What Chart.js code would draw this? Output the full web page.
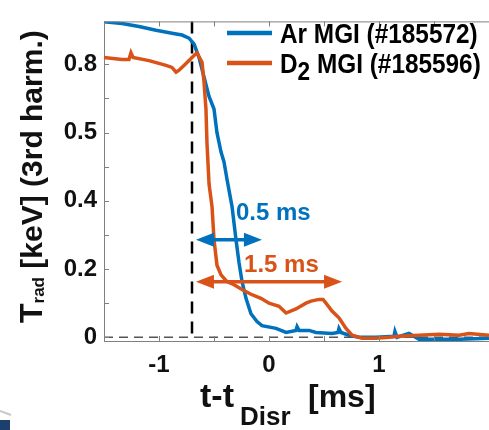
<!DOCTYPE html>
<html lang="en">
<head>
<meta charset="UTF-8">
<title>Trad (3rd harm.) during MGI disruption</title>
<script src="https://cdn.jsdelivr.net/npm/chart.js"></script>
<style>
  body { margin: 0; background: #fff; }
  #wrap { width: 489px; height: 430px; }
</style>
</head>
<body>
<div id="wrap"><canvas id="tradChart"></canvas></div>
<script>
// Ar MGI (#185572), time relative to disruption [ms] and Trad [keV]
const arTime = [-1.5, -1.336, -1.182, -1.027, -0.882, -0.791, -0.727, -0.682, -0.636, -0.591,
  -0.545, -0.5, -0.473, -0.436, -0.409, -0.382, -0.336, -0.3, -0.273, -0.245,
  -0.209, -0.164, -0.109, -0.064, 0.064, 0.155, 0.245, 0.255, 0.273, 0.364,
  0.427, 0.573, 0.627, 0.636, 0.655, 0.727, 0.818, 0.973, 1.136, 1.145,
  1.164, 1.273, 1.364, 1.545, 1.727, 2.0];
const arTrad = [0.925, 0.92, 0.911, 0.9, 0.891, 0.886, 0.877, 0.86, 0.82, 0.763,
  0.706, 0.669, 0.6, 0.543, 0.514, 0.463, 0.383, 0.286, 0.22, 0.163,
  0.114, 0.069, 0.046, 0.034, 0.026, 0.014, 0.02, 0.031, 0.02, 0.02,
  0.014, 0.011, 0.014, 0.026, 0.014, 0.006, 0.0, 0.0, 0.003, 0.017,
  0.0, 0.011, -0.006, -0.006, -0.006, -0.003];

// D2 MGI (#185596)
const d2Time = [-1.5, -1.336, -1.273, -1.255, -1.236, -1.091, -0.936, -0.882, -0.845, -0.818,
  -0.773, -0.727, -0.7, -0.655, -0.609, -0.591, -0.573, -0.564, -0.545, -0.518,
  -0.5, -0.473, -0.436, -0.382, -0.318, -0.245, -0.164, -0.073, 0, 0.091,
  0.155, 0.245, 0.336, 0.382, 0.455, 0.491, 0.518, 0.573, 0.636, 0.7,
  0.755, 0.845, 0.973, 1.091, 1.182, 1.364, 1.545, 1.727, 1.818, 2.0];
const d2Trad = [0.82, 0.814, 0.814, 0.834, 0.82, 0.811, 0.797, 0.791, 0.777, 0.783,
  0.797, 0.811, 0.82, 0.834, 0.806, 0.749, 0.669, 0.571, 0.449, 0.383,
  0.286, 0.211, 0.183, 0.163, 0.154, 0.14, 0.126, 0.114, 0.1, 0.091,
  0.071, 0.083, 0.1, 0.106, 0.111, 0.111, 0.1, 0.077, 0.057, 0.026,
  0.006, -0.003, -0.003, 0, 0.003, 0.006, 0.009, 0.006, 0.011, 0.006];

const xTickValues = [-1, 0, 1];
const xTickLabels = ['-1', '0', '1'];
const xMinorTicks = [-1.5, -1, -0.5, 0, 0.5, 1, 1.5, 2];
const yTickValues = [0, 0.2, 0.4, 0.6, 0.8];
const yTickLabels = ['0', '0.2', '0.4', '0.5', '0.8'];
const yMinorTicks = [0, 0.1, 0.2, 0.3, 0.4, 0.5, 0.6, 0.7, 0.8];

const disruptionTime = -0.7;
// arrows: [from, to, level] in data units, label and where it starts
const spanArrows = [
  { label: '0.5 ms', from: -0.664, to: -0.064, level: 0.286, textX: -0.3, textY: 0.363 },
  { label: '1.5 ms', from: -0.664, to: 0.664, level: 0.163, textX: -0.227, textY: 0.211 }
];

const BLUE = '#0072BD';
const ORANGE = '#D95319';
const FONT = '"Liberation Sans", Arial, sans-serif';

function toPoints(xs, ys) {
  return xs.map((x, i) => ({ x: x, y: ys[i] }));
}

// text with subscript parts, optional horizontal squeeze
function drawRich(ctx, parts, x, y, size, squeeze) {
  ctx.save();
  ctx.translate(x, y);
  ctx.scale(squeeze || 1, 1);
  ctx.textAlign = 'left';
  ctx.textBaseline = 'alphabetic';
  let cx = 0;
  parts.forEach(p => {
    const fs = p.size || size;
    ctx.font = 'bold ' + fs + 'px ' + FONT;
    ctx.fillText(p.t, cx, p.dy || 0);
    cx += ctx.measureText(p.t).width;
  });
  ctx.restore();
}

function drawArrow(ctx, x1, x2, y, color) {
  const head = 18, half = 7;
  ctx.strokeStyle = color;
  ctx.fillStyle = color;
  ctx.lineWidth = 3.5;
  ctx.setLineDash([]);
  ctx.beginPath();
  ctx.moveTo(x1 + head - 2, y);
  ctx.lineTo(x2 - head + 2, y);
  ctx.stroke();
  ctx.beginPath();
  ctx.moveTo(x1, y); ctx.lineTo(x1 + head, y - half); ctx.lineTo(x1 + head, y + half);
  ctx.closePath(); ctx.fill();
  ctx.beginPath();
  ctx.moveTo(x2, y); ctx.lineTo(x2 - head, y - half); ctx.lineTo(x2 - head, y + half);
  ctx.closePath(); ctx.fill();
}

const decor = {
  id: 'decor',
  beforeDatasetsDraw(chart) {
    const { ctx, chartArea: a, scales: { x, y } } = chart;
    ctx.save();
    // zero line
    ctx.strokeStyle = '#555';
    ctx.lineWidth = 1.5;
    ctx.setLineDash([9, 6]);
    ctx.beginPath();
    ctx.moveTo(a.left, y.getPixelForValue(0));
    ctx.lineTo(a.right, y.getPixelForValue(0));
    ctx.stroke();
    // disruption marker
    const xd = x.getPixelForValue(disruptionTime);
    ctx.strokeStyle = '#000';
    ctx.lineWidth = 2.5;
    ctx.setLineDash([12, 8]);
    ctx.beginPath();
    ctx.moveTo(xd, a.top);
    ctx.lineTo(xd, a.bottom);
    ctx.stroke();
    ctx.restore();
  },
  afterDatasetsDraw(chart) {
    const { ctx, chartArea: a, scales: { x, y } } = chart;
    ctx.save();
    // box top and inward tick marks
    ctx.strokeStyle = '#808080';
    ctx.lineWidth = 1;
    ctx.beginPath();
    ctx.moveTo(a.left, a.top + 0.5);
    ctx.lineTo(a.right, a.top + 0.5);
    yMinorTicks.forEach(v => {
      const py = Math.round(y.getPixelForValue(v)) + 0.5;
      ctx.moveTo(a.left, py);
      ctx.lineTo(a.left + 5, py);
    });
    xMinorTicks.forEach(v => {
      const px = Math.round(x.getPixelForValue(v)) + 0.5;
      ctx.moveTo(px, a.bottom);
      ctx.lineTo(px, a.bottom - 5);
      ctx.moveTo(px, a.top);
      ctx.lineTo(px, a.top + 5);
    });
    ctx.stroke();

    // arrows + labels
    spanArrows.forEach((s, i) => {
      const color = i === 0 ? BLUE : ORANGE;
      drawArrow(ctx, x.getPixelForValue(s.from), x.getPixelForValue(s.to), y.getPixelForValue(s.level), color);
      ctx.fillStyle = color;
      ctx.font = 'bold 24px ' + FONT;
      ctx.textAlign = 'left';
      ctx.textBaseline = 'middle';
      ctx.fillText(s.label, x.getPixelForValue(s.textX), y.getPixelForValue(s.textY));
    });

    // legend
    const items = [
      { color: BLUE, parts: [{ t: 'Ar MGI (#185572)' }] },
      { color: ORANGE, parts: [{ t: 'D' }, { t: '2', size: 26, dy: 7 }, { t: ' MGI (#185596)' }] }
    ];
    items.forEach((it, i) => {
      const cy = 33 + i * 30;
      ctx.strokeStyle = it.color;
      ctx.lineWidth = 4.5;
      ctx.beginPath();
      ctx.moveTo(227, cy);
      ctx.lineTo(272, cy);
      ctx.stroke();
      ctx.fillStyle = '#000';
      drawRich(ctx, it.parts, 280, cy + 10, 28, 0.87);
    });

    // axis titles
    ctx.fillStyle = '#111';
    drawRich(ctx, [{ t: 't-t', size: 34 }], 200, 407, 34);
    drawRich(ctx, [{ t: 'Disr' }], 240, 425, 26);
    drawRich(ctx, [{ t: '[ms]' }], 308, 407, 32);

    ctx.save();
    ctx.translate(42, 323);
    ctx.rotate(-Math.PI / 2);
    drawRich(ctx, [{ t: 'T', size: 32 }, { t: 'rad', size: 17, dy: 2 }, { t: ' [keV] (3rd harm.)' }], 0, 0, 30);
    ctx.restore();

    // corner of a logo left in the shot
    ctx.fillStyle = '#1d3f6e';
    ctx.fillRect(0, 420, 10, 10);
    ctx.strokeStyle = '#c8c8c8';
    ctx.lineWidth = 2;
    ctx.beginPath();
    ctx.moveTo(0, 411);
    ctx.lineTo(11, 415);
    ctx.stroke();
    ctx.restore();
  }
};

new Chart(document.getElementById('tradChart'), {
  type: 'line',
  data: {
    datasets: [
      {
        label: 'D2 MGI (#185596)',
        data: toPoints(d2Time, d2Trad),
        borderColor: ORANGE,
        borderWidth: 3.5,
        pointRadius: 0,
        order: 1
      },
      {
        label: 'Ar MGI (#185572)',
        data: toPoints(arTime, arTrad),
        borderColor: BLUE,
        borderWidth: 3.5,
        pointRadius: 0,
        order: 2
      }
    ]
  },
  options: {
    responsive: true,
    maintainAspectRatio: false,
    animation: false,
    layout: { padding: { top: 13, right: 0, left: 0, bottom: 0 } },
    plugins: { legend: { display: false }, tooltip: { enabled: false } },
    scales: {
      x: {
        type: 'linear',
        min: -1.5,
        max: 2.0,
        afterFit: s => { s.height = 89; },
        afterBuildTicks: s => { s.ticks = xTickValues.map(v => ({ value: v })); },
        ticks: {
          padding: 10,
          color: '#111',
          font: { family: FONT, size: 24, weight: 'bold' },
          callback: (v, i) => xTickLabels[i]
        },
        grid: { drawOnChartArea: false, drawTicks: false },
        border: { color: '#808080', width: 1 }
      },
      y: {
        type: 'linear',
        min: -0.011,
        max: 0.926,
        afterFit: s => { s.width = 104; },
        afterBuildTicks: s => { s.ticks = yTickValues.map(v => ({ value: v })); },
        ticks: {
          padding: 7,
          color: '#111',
          font: { family: FONT, size: 24, weight: 'bold' },
          callback: (v, i) => yTickLabels[i]
        },
        grid: { drawOnChartArea: false, drawTicks: false },
        border: { color: '#808080', width: 1 }
      }
    }
  },
  plugins: [decor]
});
</script>
</body>
</html>
